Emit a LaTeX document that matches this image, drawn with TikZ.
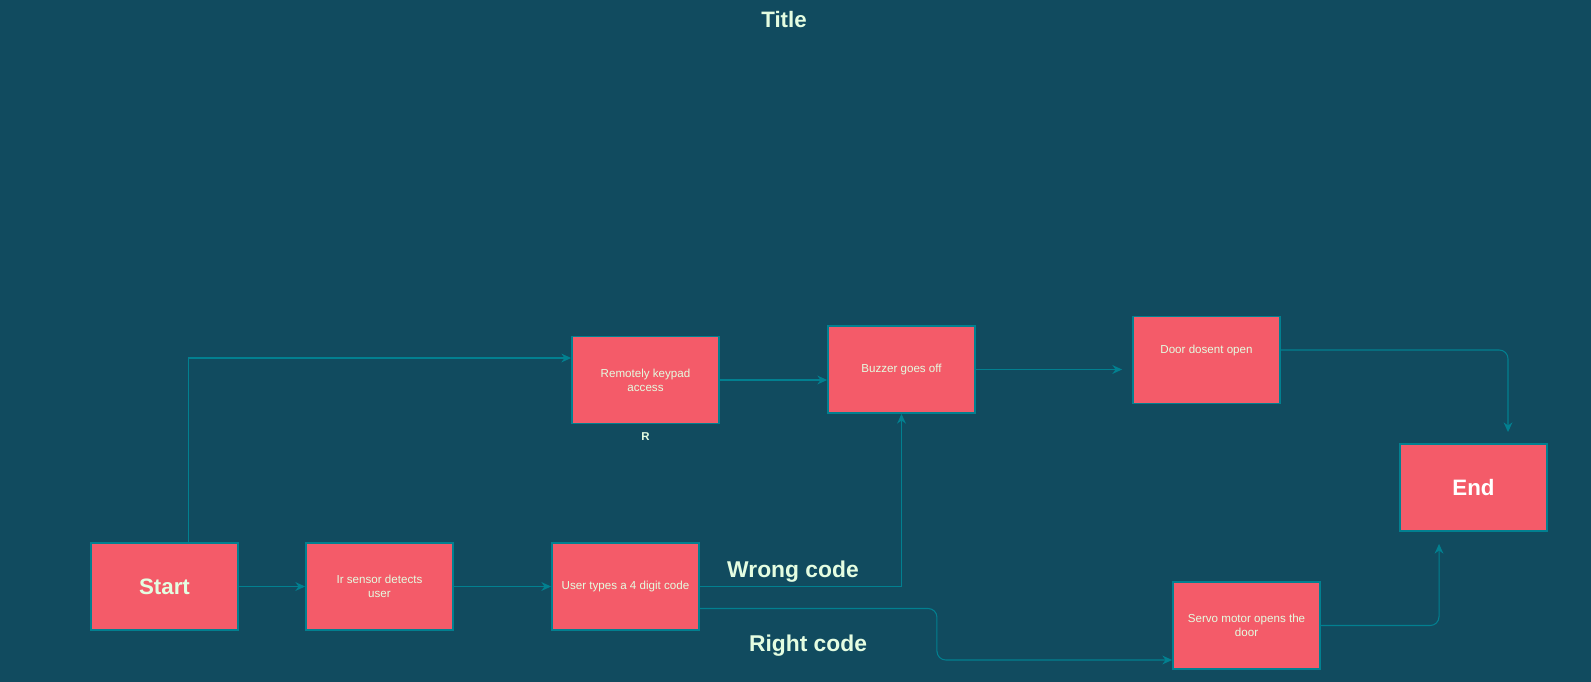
\documentclass[tikz,border=0pt]{standalone}
\usepackage{fontspec}
\setmainfont{Liberation Sans}
\usetikzlibrary{calc,arrows.meta}
\definecolor{bgteal}{HTML}{114B5F}\definecolor{boxred}{HTML}{F45B69}
\definecolor{lineteal}{HTML}{028090}\definecolor{txtpale}{HTML}{E4FDE1}
\tikzset{box/.style={draw=lineteal,line width=1.1pt,fill=boxred,minimum width=2.94cm,minimum height=1.74cm,inner sep=1pt,align=center,text=txtpale,font=\fontsize{6.6}{8}\selectfont},
big/.style={text=txtpale,font=\fontsize{13}{15}\selectfont\bfseries},
link/.style={->,draw=lineteal,line width=0.6pt}}
\begin{document}
\begin{tikzpicture}[x=0.02cm,y=-0.02cm,>={Stealth[length=5.5pt,width=5pt]}]
\fill[bgteal] (0,0) rectangle (1591,682);\useasboundingbox (0,0) rectangle (1591,682);
\node[big,font=\fontsize{12.7}{15}\selectfont\bfseries] (title) at (784,20){Title};
\node[box,font=\fontsize{12.7}{15}\selectfont\bfseries] (start) at (164.5,586.5){Start};
\node[box] (ir) at (379.5,586.5){Ir sensor detects\\user};
\node[box] (user) at (625.5,586.5){User types a 4 digit code};
\node[box] (remote) at (645.5,380){Remotely keypad\\access};
\node[box] (buzzer) at (901.5,369.5){Buzzer goes off};
\node[box] (door) at (1206.5,360){};\node[text=txtpale,font=\fontsize{6.6}{8}\selectfont] (doortext) at (1206.5,350){Door dosent open};
\node[box,text=white,font=\fontsize{12.7}{15}\selectfont\bfseries] (end) at (1473.5,487.5){End};
\node[box] (servo) at (1246.5,625.5){Servo motor opens the\\door};
\node[text=txtpale,font=\fontsize{6.5}{8}\selectfont\bfseries] (rlbl) at (645.5,437){R};
\node[big] (wrong) at (793,572){Wrong code};\node[big] (right) at (808,646){Right code};
\draw[link] ([xshift=0.48cm]start.north) |- ([yshift=0.44cm]remote.west);
\draw[link] (start.east) -- (ir.west);\draw[link] (ir.east) -- (user.west);
\draw[link] (user.east) -| (buzzer.south);
\draw[link,rounded corners=5pt] ([yshift=-0.44cm]user.east) -- ++(237,0) |- ([yshift=-0.69cm]servo.west);
\draw[link] (remote.east) -- (remote.east -| buzzer.west);
\draw[link] (buzzer.east) -- ($(buzzer.east -| door.west)+(-10,0)$);
\draw[link,rounded corners=5pt] ([yshift=0.2cm]door.east) -| ([xshift=0.69cm,yshift=0.22cm]end.north);
\draw[link,rounded corners=5pt] (servo.east) -| ([xshift=-0.69cm,yshift=-0.24cm]end.south);
\end{tikzpicture}
\end{document}
